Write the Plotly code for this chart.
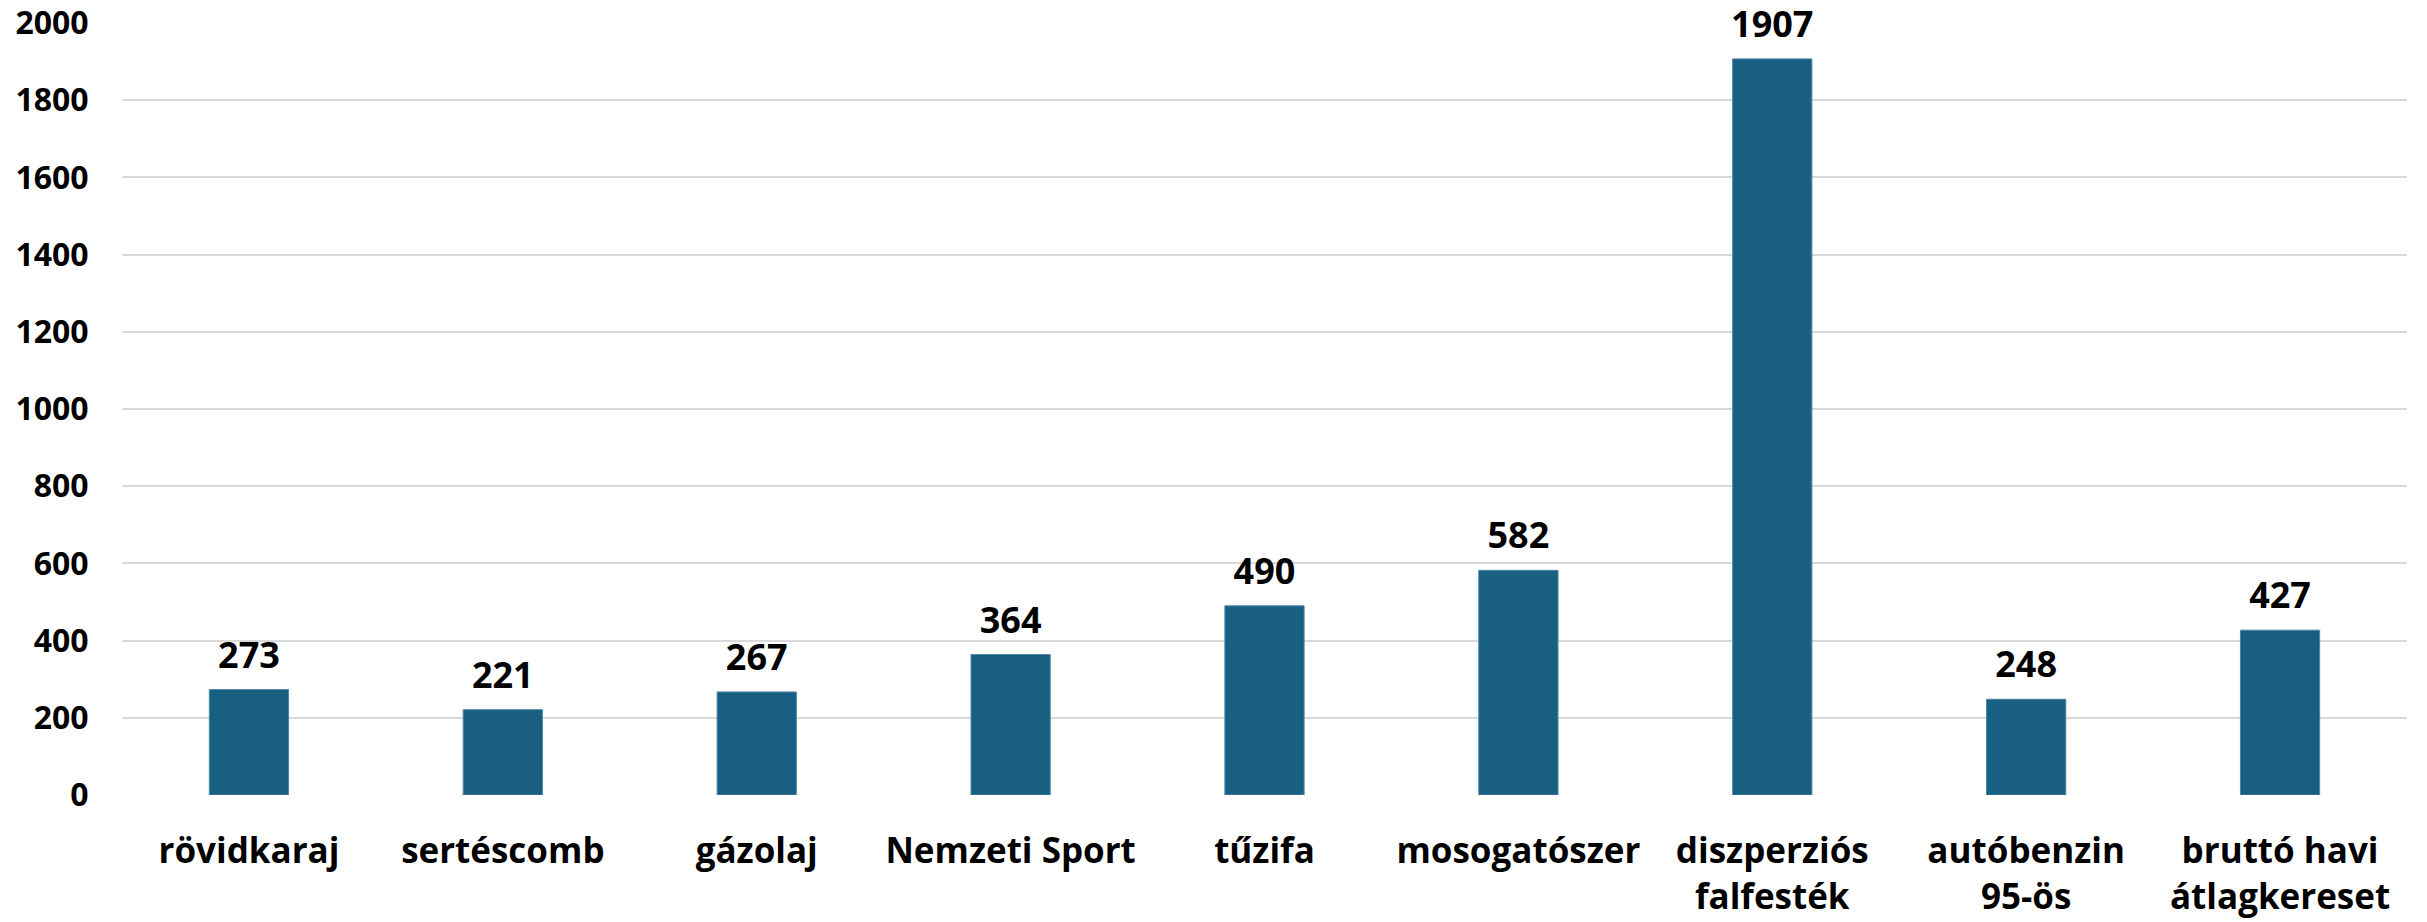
import plotly.graph_objects as go

categories = ["rövidkaraj", "sertéscomb", "gázolaj", "Nemzeti Sport", "tűzifa",
              "mosogatószer", "diszperziós<br>falfesték", "autóbenzin<br>95-ös",
              "bruttó havi<br>átlagkereset"]
values = [273, 221, 267, 364, 490, 582, 1907, 248, 427]
y_ticks = [0, 200, 400, 600, 800, 1000, 1200, 1400, 1600, 1800, 2000]

FONT = "Open Sans"
BAR = "#185F82"

fig = go.Figure()
fig.add_trace(go.Bar(
    x=categories, y=values,
    marker=dict(color=BAR, line=dict(color="#4a86a6", width=1)),
    hoverinfo="skip",
))
fig.add_trace(go.Scatter(
    x=categories, y=values,
    mode="markers+text",
    text=[str(v) for v in values],
    textposition="top center",
    textfont=dict(family=FONT, size=36, color="#000000", weight="bold"),
    marker=dict(size=19, opacity=0),
    cliponaxis=False,
    hoverinfo="skip",
))

fig.update_layout(
    width=2427, height=922,
    margin=dict(l=122, r=20, t=23, b=127),
    paper_bgcolor="white", plot_bgcolor="white",
    showlegend=False,
    bargap=0.688,
    font=dict(family=FONT, color="#000000"),
)
fig.update_xaxes(
    automargin=False,
    showgrid=False, showline=False, zeroline=False,
    ticks="outside", ticklen=25, tickcolor="rgba(0,0,0,0)",
    tickfont=dict(family=FONT, size=35, color="#000000", weight="bold"),
    tickangle=0,
)
fig.update_yaxes(
    automargin=False,
    range=[0, 2000],
    tickvals=y_ticks,
    ticktext=[str(t) for t in y_ticks],
    showgrid=True, gridcolor="#d9d9d9", gridwidth=2,
    zeroline=False, showline=False,
    ticks="outside", ticklen=26, tickcolor="rgba(0,0,0,0)",
    tickfont=dict(family=FONT, size=32, color="#000000", weight="bold"),
)

fig.write_html("out.html", config={"displayModeBar": False},
               post_script="document.body.style.margin='0';")
